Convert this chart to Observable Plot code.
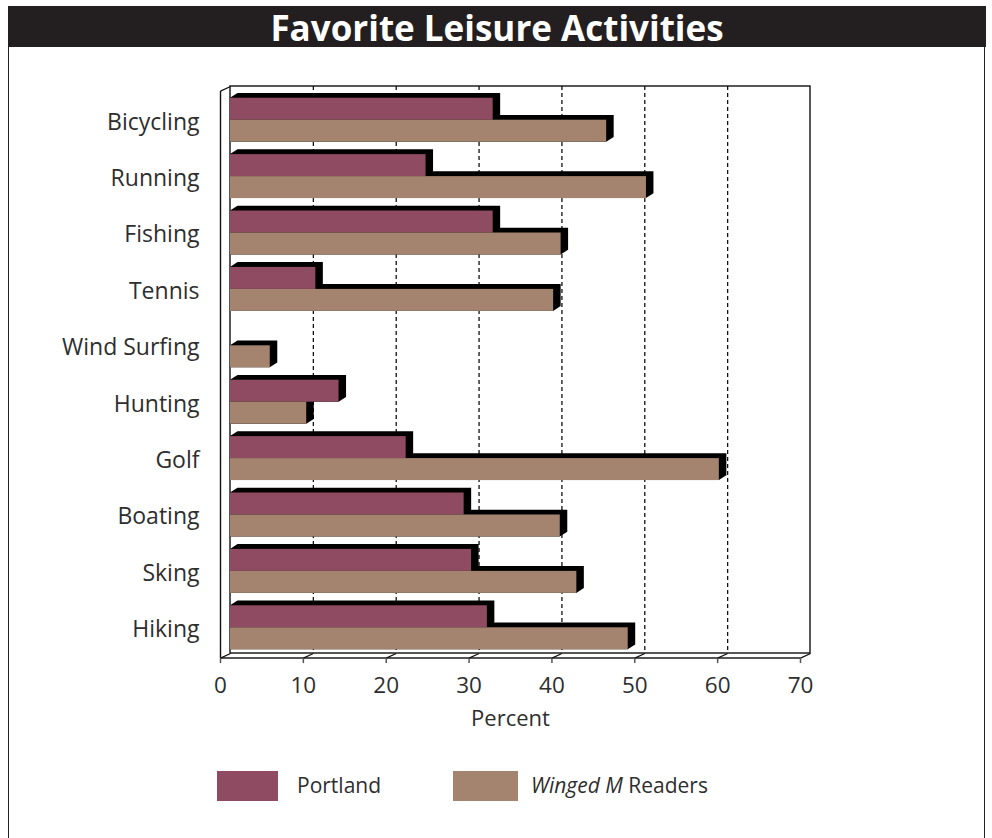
<!DOCTYPE html>
<html>
<head>
<meta charset="utf-8">
<script src="https://cdn.jsdelivr.net/npm/d3@7"></script>
<script src="https://cdn.jsdelivr.net/npm/@observablehq/plot@0.6"></script>
<style>
  html, body { margin: 0; padding: 0; background: #fff; }
  body { width: 992px; height: 838px; position: relative; overflow: hidden; font-family: "Open Sans", sans-serif; color: #2e2e2e; }
  #frame { position: absolute; left: 8px; top: 6px; width: 975px; height: 860px; border: 1.5px solid #222; }
  #title { position: absolute; left: 8px; top: 6px; width: 978px; height: 41px; background: #231f20; color: #fff;
           font-weight: 700; font-size: 35px; line-height: 44px; text-align: center; letter-spacing: 0px; }
  #chart { position: absolute; left: 0; top: 47px; }
  .sw { position: absolute; height: 30px; }
  .lt { position: absolute; font-size: 21px; line-height: 30px; color: #2e2e2e; }
</style>
</head>
<body>
<div id="frame"></div>
<div id="title">Favorite Leisure Activities</div>
<div id="chart"></div>
<div class="sw" style="left:217px; top:771px; width:61px; background:#8e4b62;"></div>
<div class="lt" style="left:297px; top:770px;">Portland</div>
<div class="sw" style="left:453px; top:771px; width:65px; background:#a4846f;"></div>
<div class="lt" style="left:531px; top:770px;"><i>Winged M</i> Readers</div>
<script>
// ---- data ----
const categories = ["Bicycling", "Running", "Fishing", "Tennis", "Wind Surfing", "Hunting", "Golf", "Boating", "Sking", "Hiking"];
const portland = [31.7, 23.6, 31.7, 10.3, null, 13.1, 21.2, 28.2, 29.1, 31.0];
const wingedM = [45.4, 50.2, 39.9, 39.0, 4.8, 9.2, 59.0, 39.8, 41.8, 48.0];
const xTicks = [0, 10, 20, 30, 40, 50, 60, 70];
const gridTicks = [10, 20, 30, 40, 50, 60];
const seriesNames = ["Portland", "Winged M Readers"];
const seriesColors = ["#8e4b62", "#a4846f"];

// ---- geometry in data units ----
const pxPerX = (810 - 230) / 70;      // px per percent
const pxPerY = 56.4;                  // px per category row
const yTop = -0.598, yBot = 9.456;    // back wall extent in row units
const BAR = 22 / pxPerY;              // bar thickness
const DX = 7.5 / pxPerX, DY = 4.8 / pxPerY;   // bar depth
const OX = 10 / pxPerX, OY = 4.6 / pxPerY;    // wall depth
const yFront = yBot + OY;
const TICK = 5 / pxPerY;

const bars = [];
categories.forEach((c, i) => {
  if (portland[i] != null) bars.push({id: "p" + i, s: 0, v: portland[i], t: i - BAR, b: i});
  if (wingedM[i] != null) bars.push({id: "w" + i, s: 1, v: wingedM[i], t: i, b: i + BAR});
});
const depth = bars.flatMap(d => [
  {id: d.id, x: 0, y1: d.b, y2: d.t},
  {id: d.id, x: DX, y1: d.b, y2: d.t - DY},
  {id: d.id, x: d.v, y1: d.b, y2: d.t - DY},
  {id: d.id, x: d.v + DX, y1: d.b - DY, y2: d.t - DY}
]);

const plot = Plot.plot({
  width: 992,
  height: 713,
  marginLeft: 230,
  marginRight: 182,
  marginTop: 39,
  marginBottom: 107,
  style: {fontFamily: "'Open Sans', sans-serif", color: "#2e2e2e", background: "transparent", overflow: "visible"},
  x: {type: "linear", domain: [0, 70], axis: null},
  y: {type: "linear", domain: [yTop, yBot], reverse: true, axis: null},
  marks: [
    // back wall
    Plot.rect([0], {x1: 0, x2: 70, y1: yTop, y2: yBot, fill: "#fff", stroke: "#111", strokeWidth: 1.4}),
    Plot.ruleX(gridTicks, {x: d => d, y1: yTop, y2: yBot, stroke: "#111", strokeWidth: 1.3, strokeDasharray: "4,3"}),
    // left wall
    Plot.link([0], {x1: -OX, x2: -OX, y1: yTop + OY, y2: yFront, stroke: "#111", strokeWidth: 1.4}),
    Plot.link([0], {x1: -OX, x2: 0, y1: yTop + OY, y2: yTop, stroke: "#111", strokeWidth: 1.2}),
    // floor
    Plot.link([0], {x1: -OX, x2: 70 - OX, y1: yFront, y2: yFront, stroke: "#555", strokeWidth: 2}),
    Plot.link(xTicks, {x1: d => d - OX, x2: d => d, y1: yFront, y2: yBot, stroke: "#111", strokeWidth: 1.2}),
    Plot.link(xTicks, {x1: d => d - OX, x2: d => d - OX, y1: yFront, y2: yFront + TICK, stroke: "#555", strokeWidth: 1.5}),
    // bars: depth then faces
    Plot.areaY(depth, {x: "x", y1: "y1", y2: "y2", z: "id", fill: "#000", curve: "linear"}),
    Plot.rect(bars, {x1: 0, x2: "v", y1: "t", y2: "b", fill: d => seriesColors[d.s]}),
    // category labels
    Plot.text(categories, {x: 0, y: (d, i) => i, dx: -31, dy: 2, text: d => d, textAnchor: "end", fontSize: 23, fill: "#2e2e2e"}),
    // x tick labels
    Plot.text(xTicks, {x: d => d - OX, y: yFront, dy: 27.5, text: d => String(d), fontSize: 22.5, fill: "#2e2e2e"}),
    // axis title
    Plot.text(["Percent"], {x: 35 - OX, y: yFront, dy: 61, text: d => d, fontSize: 22, fill: "#2e2e2e"})
  ]
});
document.getElementById("chart").appendChild(plot);
</script>
</body>
</html>
